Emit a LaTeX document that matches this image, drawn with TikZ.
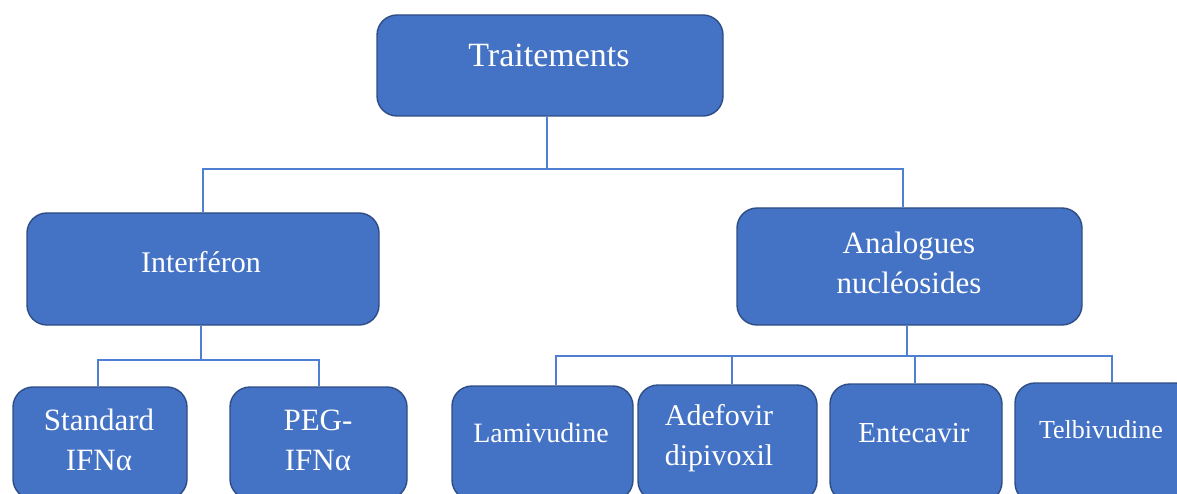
\documentclass[tikz,border=0pt]{standalone}
\usepackage{fontspec}
\setmainfont{Liberation Serif}
\definecolor{boxfill}{HTML}{4472C4}
\definecolor{boxline}{HTML}{2F4D85}
\definecolor{connline}{HTML}{4F7FD2}
\begin{document}
\begin{tikzpicture}[x=1pt,y=-1pt,
  box/.style={draw=boxline, line width=1.4pt, fill=boxfill, rounded corners=20pt, inner sep=0pt},
  lbl/.style={text=white, align=center, inner sep=0pt},
  conn/.style={draw=connline, line width=1.8pt}]
\useasboundingbox (0,0) rectangle (1177,494);
\clip (0,0) rectangle (1177,494);
% boxes
\node[box, minimum width=346pt, minimum height=101pt] (top) at (550,65.5) {};
\node[box, minimum width=352pt, minimum height=112pt] (interf) at (203,269) {};
\node[box, minimum width=345pt, minimum height=117pt] (anal) at (909.5,266.5) {};
\node[box, minimum width=174pt, minimum height=112pt] (std) at (100,443) {};
\node[box, minimum width=177pt, minimum height=112pt] (peg) at (318.5,443) {};
\node[box, minimum width=181pt, minimum height=114pt] (lam) at (542.5,443) {};
\node[box, minimum width=179pt, minimum height=116pt] (adef) at (727.5,443) {};
\node[box, minimum width=172pt, minimum height=118pt] (ent) at (916,443) {};
\node[box, minimum width=180pt, minimum height=120pt] (telb) at (1105,443) {};
% labels
\node[lbl, font=\fontsize{34}{40}\selectfont] (ttop) at (549,55) {Traitements};
\node[lbl, font=\fontsize{30}{40}\selectfont] (tinterf) at (201,262) {Interféron};
\node[lbl, font=\fontsize{31}{40}\selectfont] (tanal) at (909,263) {Analogues\\nucléosides};
\node[lbl, font=\fontsize{31}{40}\selectfont] (tstd) at (99,440) {Standard\\IFNα};
\node[lbl, font=\fontsize{31}{40}\selectfont] (tpeg) at (318,440) {PEG-\\IFNα};
\node[lbl, font=\fontsize{28}{40}\selectfont] (tlam) at (541,433) {Lamivudine};
\node[lbl, font=\fontsize{30}{40}\selectfont] (tadef) at (719,438) {Adefovir\\dipivoxil};
\node[lbl, font=\fontsize{29}{40}\selectfont] (tent) at (914,433) {Entecavir};
\node[lbl, font=\fontsize{26}{40}\selectfont] (ttelb) at (1101,430) {Telbivudine};
% connectors
\draw[conn] ([xshift=-3pt]top.south) -- ++(0,52) coordinate (b1);
\draw[conn] (interf.north) |- (b1) -| ([xshift=-6.5pt]anal.north);
\draw[conn] ([xshift=-2pt]interf.south) -- ++(0,34) coordinate (b2);
\draw[conn] ([xshift=-2pt]std.north) |- (b2) -| ([xshift=0.5pt]peg.north);
\draw[conn] ([xshift=-2.5pt]anal.south) -- ++(0,30) coordinate (b3);
\draw[conn] ([xshift=13.5pt]lam.north) |- (b3) -| ([xshift=7pt]telb.north);
\draw[conn] ([xshift=4.5pt]adef.north) -- ([xshift=4.5pt]adef.north |- b3);
\draw[conn] ([xshift=-1pt]ent.north) -- ([xshift=-1pt]ent.north |- b3);
\end{tikzpicture}
\end{document}
